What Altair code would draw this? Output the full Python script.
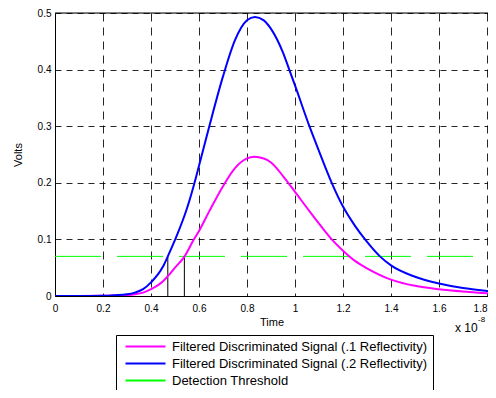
import altair as alt
import pandas as pd

# ---- data (time in units of 1e-8 s) ----
t_blue = [0, 0.1, 0.2, 0.25, 0.3, 0.333, 0.367, 0.4, 0.45, 0.47, 0.5, 0.55, 0.58, 0.6, 0.643,
          0.7, 0.75, 0.8, 0.833, 0.87, 0.9, 0.95, 0.976, 1.0, 1.06, 1.1, 1.153, 1.2,
          1.25, 1.292, 1.354, 1.4, 1.5, 1.6, 1.7, 1.8, 1.85]
v_blue = [0, 0, 0.0005, 0.0015, 0.003, 0.006, 0.012, 0.024, 0.052, 0.07, 0.099, 0.155, 0.198, 0.23, 0.3,
          0.388, 0.452, 0.487, 0.493, 0.487, 0.472, 0.43, 0.4, 0.372, 0.3, 0.256, 0.2, 0.158,
          0.124, 0.1, 0.07, 0.054, 0.034, 0.022, 0.014, 0.009, 0.007]

t_mag = [0, 0.1, 0.2, 0.25, 0.3, 0.333, 0.367, 0.4, 0.45, 0.47, 0.5, 0.54, 0.576, 0.6, 0.643,
         0.7, 0.75, 0.8, 0.83, 0.87, 0.9, 0.95, 1.0, 1.06, 1.1, 1.153, 1.2,
         1.25, 1.3, 1.4, 1.5, 1.6, 1.7, 1.8, 1.85]
v_mag = [0, 0, 0.0003, 0.0008, 0.0015, 0.003, 0.006, 0.012, 0.026, 0.035, 0.05, 0.07, 0.098, 0.115, 0.15,
         0.194, 0.226, 0.243, 0.246, 0.243, 0.236, 0.212, 0.184, 0.15, 0.128, 0.1, 0.08,
         0.062, 0.049, 0.029, 0.018, 0.012, 0.008, 0.005, 0.004]

threshold = 0.07
thr_t = [0, 1.85]
crossings = [0.47, 0.539]

names = ["Filtered Discriminated Signal (.1 Reflectivity)",
         "Filtered Discriminated Signal (.2 Reflectivity)",
         "Detection Threshold"]
colors = ["#ff00ff", "#0000ff", "#00ff00"]

x_ticks = [0, 0.2, 0.4, 0.6, 0.8, 1.0, 1.2, 1.4, 1.6, 1.8]
y_ticks = [0, 0.1, 0.2, 0.3, 0.4, 0.5]

curves = pd.concat([
    pd.DataFrame({"t": t_mag, "v": v_mag, "series": names[0], "order": 0}),
    pd.DataFrame({"t": t_blue, "v": v_blue, "series": names[1], "order": 1}),
])
thr_df = pd.DataFrame({"t": thr_t, "v": [threshold] * len(thr_t), "series": names[2]})
cross_df = pd.DataFrame({"t": crossings, "v0": [0] * len(crossings), "v1": [threshold] * len(crossings)})

W, H = 433, 283
FONT = "Liberation Sans"

xscale = alt.Scale(domain=[0, W / 240], nice=False, zero=False)
yscale = alt.Scale(domain=[0, 0.5], nice=False)
cscale = alt.Scale(domain=names, range=colors)

xax = alt.Axis(values=x_ticks, format="~g", title="Time", grid=True, gridDash=[8, 6],
               gridColor="#000000", gridOpacity=0.85, tickSize=0, labelPadding=7,
               titlePadding=3, domainColor="#000000", labelColor="#000000",
               titleColor="#000000", titleFontWeight="normal", labelFlush=False,
               labelAlign=alt.ExprRef("datum.value > 1.7 ? 'right' : 'center'"))
yax = alt.Axis(values=y_ticks, labelExpr="datum.value == 0 ? '0' : format(datum.value, '.1f')",
               title="Volts", grid=True, gridDash=[6, 5], gridColor="#000000", gridOpacity=0.85,
               tickSize=0, labelPadding=4, titlePadding=14, domainColor="#000000",
               labelColor="#000000", titleColor="#000000", titleFontWeight="normal")

legend = alt.Legend(title=None, orient="none", legendX=61, legendY=322,
                    strokeColor="#000000", fillColor="#ffffff", padding=5,
                    symbolType="M-0.4,0H7.6", symbolSize=100, symbolStrokeWidth=2,
                    labelOffset=38, rowPadding=3, labelFontSize=13, labelFont=FONT,
                    labelColor="#000000", labelLimit=400)

thr_layer = alt.Chart(thr_df).mark_line(strokeWidth=1, strokeDash=[46, 16], clip=True).encode(
    x=alt.X("t:Q", scale=xscale, axis=xax),
    y=alt.Y("v:Q", scale=yscale, axis=yax),
    color=alt.Color("series:N", scale=cscale, legend=legend),
)

cross_layer = alt.Chart(cross_df).mark_rule(color="#000000", strokeWidth=1).encode(
    x="t:Q", y="v0:Q", y2="v1:Q"
)

curve_layer = alt.Chart(curves).mark_line(strokeWidth=2, clip=True, interpolate="monotone").encode(
    x="t:Q", y="v:Q",
    color=alt.Color("series:N", scale=cscale, legend=legend),
    detail="series:N",
    order="order:Q",
)

top_border = alt.Chart(pd.DataFrame({"a": [0]})).mark_rule(color="#000000", strokeWidth=1).encode(
    x=alt.value(0), x2=alt.value(W), y=alt.value(0)
)

exp_base = alt.Chart(pd.DataFrame({"txt": ["x 10"]})).mark_text(
    align="left", baseline="middle", font=FONT, fontSize=12, color="#000000"
).encode(x=alt.value(400), y=alt.value(315), text="txt:N")
exp_sup = alt.Chart(pd.DataFrame({"txt": ["-8"]})).mark_text(
    align="left", baseline="middle", font=FONT, fontSize=8, color="#000000"
).encode(x=alt.value(423), y=alt.value(307), text="txt:N")

chart = alt.layer(thr_layer, cross_layer, curve_layer, top_border, exp_base, exp_sup).properties(
    width=W, height=H,
    autosize=alt.AutoSizeParams(type="none"),
    padding={"left": 47, "top": 5, "right": 0, "bottom": 94},
).configure_view(stroke=None).configure_axis(
    labelFont=FONT, titleFont=FONT, labelFontSize=12, titleFontSize=12
).configure(background="#ffffff")

chart.save("out.html", embed_options={"renderer": "svg", "actions": False})
